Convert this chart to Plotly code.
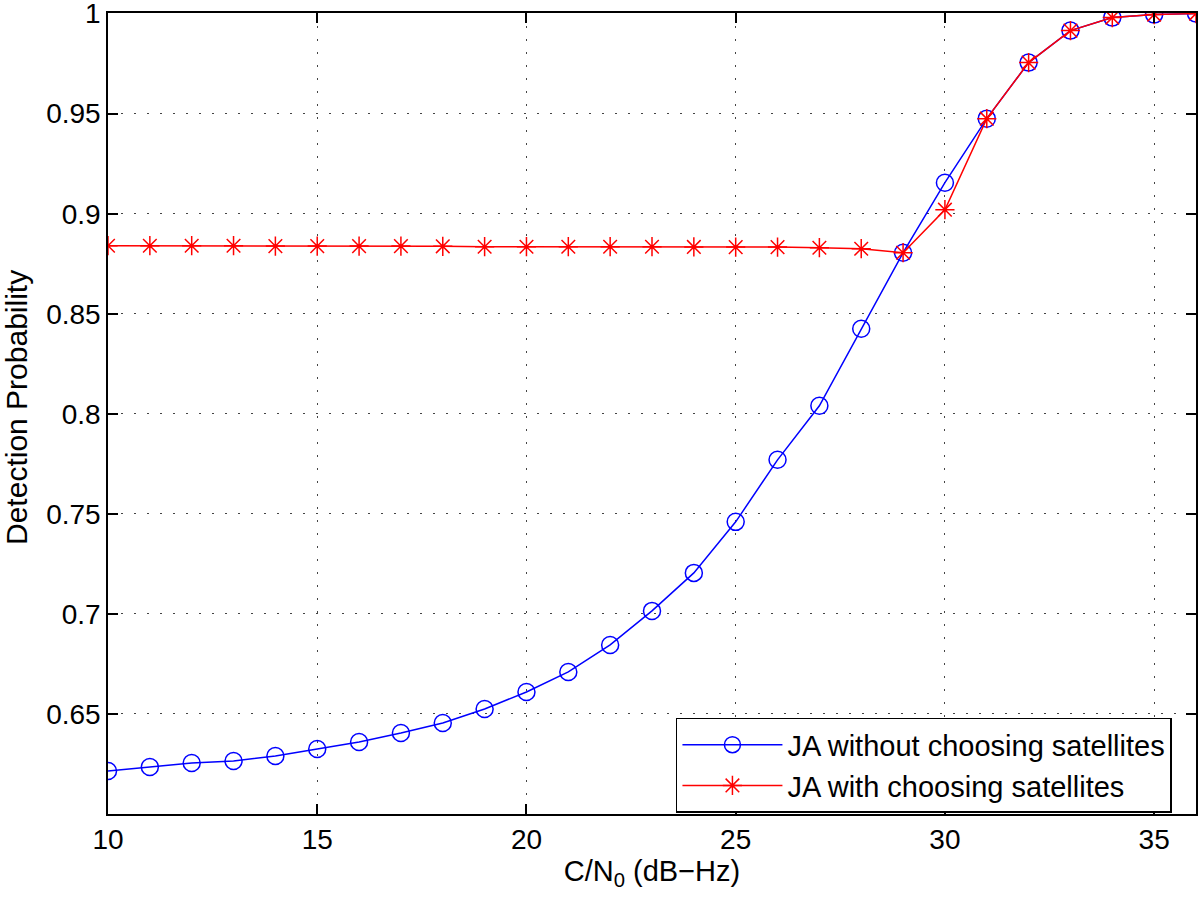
import plotly.graph_objects as go

cn0 = list(range(10, 37))
p_without = [0.6215, 0.6235, 0.6255, 0.6265, 0.629, 0.6325, 0.636, 0.6405, 0.6455,
             0.6525, 0.661, 0.671, 0.6845, 0.7015, 0.7205, 0.746, 0.777, 0.804,
             0.8425, 0.8805, 0.9155, 0.9475, 0.9755, 0.9915, 0.998, 0.9995, 1.0]
p_with = [0.884, 0.884, 0.884, 0.884, 0.8838, 0.8838, 0.8838, 0.8838, 0.8837,
          0.8835, 0.8835, 0.8835, 0.8835, 0.8835, 0.8834, 0.8833, 0.8833, 0.883,
          0.8825, 0.8805, 0.902, 0.9475, 0.9755, 0.9915, 0.998, 0.9995, 1.0]
x_ticks = [10, 15, 20, 25, 30, 35]
y_ticks = [0.65, 0.7, 0.75, 0.8, 0.85, 0.9, 0.95, 1]
y_labels = ["0.65", "0.7", "0.75", "0.8", "0.85", "0.9", "0.95", "1"]

font = "Liberation Sans, Arial, Helvetica, sans-serif"

fig = go.Figure()
fig.add_trace(go.Scatter(
    x=cn0, y=p_without, mode="lines+markers", name="JA without choosing satellites",
    line=dict(color="#0000ff", width=1.5),
    marker=dict(symbol="circle-open", size=17, color="#0000ff", line=dict(width=1.5)),
))
fig.add_trace(go.Scatter(
    x=cn0, y=p_with, mode="lines+markers", name="JA with choosing satellites",
    line=dict(color="#ff0000", width=1.5),
    marker=dict(symbol="asterisk-open", size=16, color="#ff0000", line=dict(width=1.5, color="#ff0000")),
))

axis_common = dict(
    showline=True, linecolor="black", linewidth=1.5, mirror="allticks",
    ticks="inside", ticklen=10, tickwidth=1.5, tickcolor="black",
    showgrid=True, gridcolor="#444444", griddash="2px,11px", gridwidth=1,
    zeroline=False, tickfont=dict(family=font, size=28, color="black"),
    ticklabeloverflow="allow", automargin=False,
)

fig.update_xaxes(range=[10, 36], tickvals=x_ticks,
                 title=dict(text="C/N<sub>0</sub> (dB\u2212Hz)", font=dict(family=font, size=29, color="black"), standoff=4),
                 **axis_common)
fig.update_yaxes(range=[0.6, 1.0003], tickvals=y_ticks, ticktext=y_labels,
                 **axis_common)

fig.add_annotation(
    text="Detection Probability", textangle=-90,
    xref="paper", yref="paper", x=-0.0841, y=0.5075,
    xanchor="center", yanchor="middle", showarrow=False,
    font=dict(family=font, size=30, color="black"),
)

fig.update_layout(
    width=1200, height=902,
    margin=dict(l=108, r=4, t=13, b=88, autoexpand=False),
    plot_bgcolor="white", paper_bgcolor="white",
    font=dict(family=font, size=28, color="black"),
    legend=dict(x=0.522, y=0.12, xanchor="left", yanchor="top",
                bgcolor="white", bordercolor="black", borderwidth=1.5,
                font=dict(family=font, size=29, color="black"),
                tracegroupgap=0, itemwidth=100),
    showlegend=True,
)

fig.write_html("out.html", config={"displayModeBar": False},
               post_script="document.body.style.margin='0';document.body.style.padding='0';")
